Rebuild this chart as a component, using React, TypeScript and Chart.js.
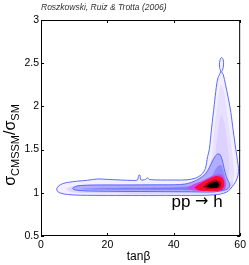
import { useEffect, useRef } from "react";
import { Chart, registerables } from "chart.js";

Chart.register(...registerables);

const titleText = "Roszkowski, Ruiz & Trotta (2006)";
const xTickValues = [0, 20, 40, 60];
const yTickValues = [0.5, 1, 1.5, 2, 2.5, 3];
const xLabel = "tanβ";
const annotationParts = ["pp ", "→", " h"];

// 95% (outer) contour, [tanβ, σ ratio]
const outerContour: number[][] = [
  [4.7, 1.045], [5.3, 1.08], [6.5, 1.105], [8, 1.12], [11, 1.135], [14, 1.145], [17, 1.16],
  [20, 1.155], [24, 1.148], [28, 1.143], [29.1, 1.15], [29.4, 1.2], [29.8, 1.205], [30.1, 1.15],
  [31.5, 1.155], [32, 1.175], [32.6, 1.155], [36, 1.148], [40, 1.148], [44, 1.15], [46.5, 1.17],
  [48.3, 1.21], [49.5, 1.28], [50.2, 1.42], [50.7, 1.5], [51.4, 1.75], [52.2, 2.02], [52.8, 2.22],
  [53.3, 2.33], [54.1, 2.4], [53.8, 2.45], [53.8, 2.51], [54.1, 2.555], [54.5, 2.565], [54.9, 2.54],
  [55.0, 2.48], [54.7, 2.42], [54.4, 2.4], [54.9, 2.37], [55.6, 2.25], [56.4, 2.1], [57.2, 1.93],
  [57.9, 1.72], [58.7, 1.5], [59.2, 1.37], [59.5, 1.28], [59.4, 1.21], [58.7, 1.13], [57.6, 1.07],
  [56, 1.01], [54, 0.985], [50, 0.972], [40, 0.97], [30, 0.97], [20, 0.97], [12, 0.972], [8, 0.98],
  [6, 0.995], [5, 1.015], [4.7, 1.045],
];

// 68% (inner) contour
const innerContour: number[][] = [
  [9.5, 1.052], [10.5, 1.075], [12, 1.085], [16, 1.09], [25, 1.09], [35, 1.092], [42, 1.095],
  [44.5, 1.11], [46.5, 1.14], [48.3, 1.18], [49.7, 1.226], [50.7, 1.29], [51.7, 1.37], [52.6, 1.43],
  [53.3, 1.45], [54.0, 1.44], [54.6, 1.38], [55.2, 1.28], [55.8, 1.19], [56.5, 1.13], [56.9, 1.09],
  [56.4, 1.05], [55, 1.028], [52, 1.01], [45, 1.012], [35, 1.014], [25, 1.016], [15, 1.02],
  [11, 1.028], [9.8, 1.04], [9.5, 1.052],
];

// density level regions (lowest to highest)
const densityTower: number[][] = [
  [51.5, 1.4], [52.3, 1.75], [53.2, 2.05], [54.1, 2.25], [55.0, 2.2], [56.0, 1.95], [57.0, 1.65],
  [57.8, 1.4], [58.2, 1.2], [57, 1.12], [52, 1.2], [51.5, 1.4],
];
const densityTowerCore: number[][] = [
  [52.5, 1.45], [53.3, 1.7], [54.3, 1.9], [55.3, 1.8], [56.2, 1.55], [56.8, 1.3], [56, 1.15],
  [53, 1.3], [52.5, 1.45],
];
const densityBandLight: number[][] = [
  [7.5, 1.05], [10, 1.08], [20, 1.1], [40, 1.1], [45.5, 1.12], [48, 1.17], [50.5, 1.3], [52, 1.45],
  [54, 1.5], [56, 1.3], [57.8, 1.15], [57.5, 1.05], [55, 1.0], [50, 0.99], [30, 0.99], [15, 0.995],
  [9, 1.01], [7.5, 1.05],
];
const densityBandCore: number[][] = [
  [12, 1.048], [18, 1.058], [30, 1.062], [40, 1.065], [45, 1.075], [48, 1.1], [51, 1.17], [53, 1.3],
  [54.3, 1.32], [55.3, 1.2], [55.8, 1.1], [55, 1.045], [50, 1.03], [40, 1.032], [25, 1.035],
  [14, 1.038], [12, 1.048],
];
const densityBandDeep: number[][] = [
  [18, 1.05], [30, 1.053], [42, 1.058], [46, 1.07], [50, 1.1], [53, 1.2], [54.5, 1.19], [55.3, 1.1],
  [54.5, 1.05], [48, 1.04], [35, 1.04], [20, 1.042], [18, 1.05],
];
const densityMagenta: number[][] = [
  [44, 1.06], [46, 1.1], [49, 1.145], [52, 1.2], [54.5, 1.21], [55.6, 1.12], [55.4, 1.04],
  [53, 1.018], [48, 1.02], [45, 1.035], [44, 1.06],
];
const densityRed: number[][] = [
  [46.2, 1.06], [48, 1.11], [50.5, 1.16], [52.8, 1.195], [54.7, 1.17], [55.2, 1.09], [54.3, 1.03],
  [51, 1.02], [47.5, 1.03], [46.2, 1.06],
];
const densityDark: number[][] = [
  [48.8, 1.07], [50.3, 1.115], [52.5, 1.15], [54.2, 1.125], [54, 1.06], [52, 1.045], [49.8, 1.048],
  [48.8, 1.07],
];
const densityBlack: number[][] = [
  [49.7, 1.075], [51, 1.11], [53, 1.128], [53.7, 1.095], [53.2, 1.062], [51, 1.058], [49.7, 1.075],
];

const fillLayers: { pts: number[][]; color: string }[] = [
  { pts: outerContour, color: "#f3efff" },
  { pts: densityBandLight, color: "#dcd6ff" },
  { pts: densityTower, color: "#e8e0ff" },
  { pts: densityTowerCore, color: "#ddd2ff" },
  { pts: innerContour, color: "#b3adff" },
  { pts: densityBandCore, color: "#8e8cfa" },
  { pts: densityBandDeep, color: "#7a78f2" },
  { pts: densityMagenta, color: "#c848f0" },
  { pts: densityRed, color: "#ff0a30" },
  { pts: densityDark, color: "#b00010" },
  { pts: densityBlack, color: "#000000" },
];

const FONT = '"Liberation Sans", Arial, Helvetica, sans-serif';
const ARROW_FONT = '"DejaVu Sans", sans-serif';

export default function App() {
  const ref = useRef<HTMLCanvasElement | null>(null);

  useEffect(() => {
    document.body.style.margin = "0";
    const canvas = ref.current;
    if (!canvas) return;

    const toXY = (pts: number[][]) => pts.map((p) => ({ x: p[0], y: p[1] }));
    const n = fillLayers.length;
    const datasets: any[] = fillLayers.map((l, i) => ({
      data: toXY(l.pts),
      showLine: true,
      borderWidth: 0,
      borderColor: l.color,
      backgroundColor: l.color,
      pointRadius: 0,
      fill: "shape",
      tension: 0.3,
      order: 100 - i,
    }));
    [outerContour, innerContour].forEach((pts, i) => {
      datasets.push({
        data: toXY(pts),
        showLine: true,
        borderWidth: 1,
        borderColor: "#5a6aff",
        backgroundColor: "transparent",
        pointRadius: 0,
        fill: false,
        tension: 0.3,
        order: 10 - i - n,
      });
    });

    const framePlugin = {
      id: "frame",
      afterDatasetsDraw(chart: any) {
        const { ctx, chartArea, scales } = chart;
        const { left, right, top, bottom } = chartArea;
        ctx.save();
        ctx.strokeStyle = "#000";
        ctx.lineWidth = 1;
        ctx.strokeRect(left + 0.5, top + 0.5, right - left - 1, bottom - top - 1);
        const tl = 3;
        ctx.beginPath();
        xTickValues.forEach((v) => {
          const px = Math.round(scales.x.getPixelForValue(v)) + 0.5;
          ctx.moveTo(px, bottom);
          ctx.lineTo(px, bottom - tl);
          ctx.moveTo(px, top);
          ctx.lineTo(px, top + tl);
        });
        yTickValues.forEach((v) => {
          const py = Math.round(scales.y.getPixelForValue(v)) + 0.5;
          ctx.moveTo(left, py);
          ctx.lineTo(left + tl, py);
          ctx.moveTo(right, py);
          ctx.lineTo(right - tl, py);
        });
        ctx.stroke();
        ctx.restore();
      },
      afterDraw(chart: any) {
        const { ctx, chartArea, scales } = chart;
        ctx.save();
        // title
        ctx.fillStyle = "#333";
        ctx.font = `italic 8.5px ${FONT}`;
        ctx.textAlign = "left";
        ctx.textBaseline = "middle";
        ctx.fillText(titleText, 41, 7.5);
        // x label
        ctx.fillStyle = "#000";
        ctx.font = `12px ${FONT}`;
        ctx.textAlign = "center";
        ctx.fillText(xLabel, (chartArea.left + chartArea.right) / 2 - 2, 257);
        // annotation
        ctx.textAlign = "left";
        ctx.textBaseline = "alphabetic";
        let ax = scales.x.getPixelForValue(39.3);
        const ay = scales.y.getPixelForValue(0.84);
        annotationParts.forEach((t, i) => {
          ctx.font = i === 1 ? `16px ${ARROW_FONT}` : `17px ${FONT}`;
          ctx.fillText(t, ax, i === 1 ? ay - 1 : ay);
          ax += ctx.measureText(t).width;
        });
        // y label with subscripts
        const parts: [string, number, number][] = [
          ["σ", 16, 0],
          ["CMSSM", 11, 4],
          ["/", 16, 0],
          ["σ", 16, 0],
          ["SM", 11, 4],
        ];
        let total = 0;
        parts.forEach(([t, s]) => {
          ctx.font = `${s}px ${FONT}`;
          total += ctx.measureText(t).width;
        });
        ctx.translate(15, 145);
        ctx.rotate(-Math.PI / 2);
        let cx = -total / 2;
        parts.forEach(([t, s, dy]) => {
          ctx.font = `${s}px ${FONT}`;
          ctx.fillText(t, cx, dy);
          cx += ctx.measureText(t).width;
        });
        ctx.restore();
      },
    };

    const chart = new Chart(canvas, {
      type: "scatter",
      data: { datasets },
      options: {
        animation: false,
        responsive: false,
        maintainAspectRatio: false,
        layout: { padding: { top: 20, right: 8, left: 0, bottom: 0 } },
        plugins: { legend: { display: false }, tooltip: { enabled: false }, title: { display: false } },
        scales: {
          x: {
            type: "linear",
            min: 0,
            max: 60,
            afterBuildTicks: (s: any) => {
              s.ticks = xTickValues.map((v) => ({ value: v }));
            },
            afterFit: (s: any) => {
              s.height = 29;
            },
            grid: { display: false, drawTicks: false },
            border: { display: false },
            ticks: {
              color: "#000",
              font: { family: FONT, size: 10.5 },
              padding: 3,
              maxRotation: 0,
              callback: (v: any) => String(v),
            },
          },
          y: {
            type: "linear",
            min: 0.5,
            max: 3,
            afterBuildTicks: (s: any) => {
              s.ticks = yTickValues.map((v) => ({ value: v }));
            },
            afterFit: (s: any) => {
              s.width = 41;
            },
            grid: { display: false, drawTicks: false },
            border: { display: false },
            ticks: {
              color: "#000",
              font: { family: FONT, size: 10.5 },
              padding: 2,
              callback: (v: any) => String(v),
            },
          },
        },
      },
      plugins: [framePlugin],
    } as any);

    return () => chart.destroy();
  }, []);

  return <canvas ref={ref} width={249} height={265} style={{ display: "block", width: 249, height: 265 }} />;
}
